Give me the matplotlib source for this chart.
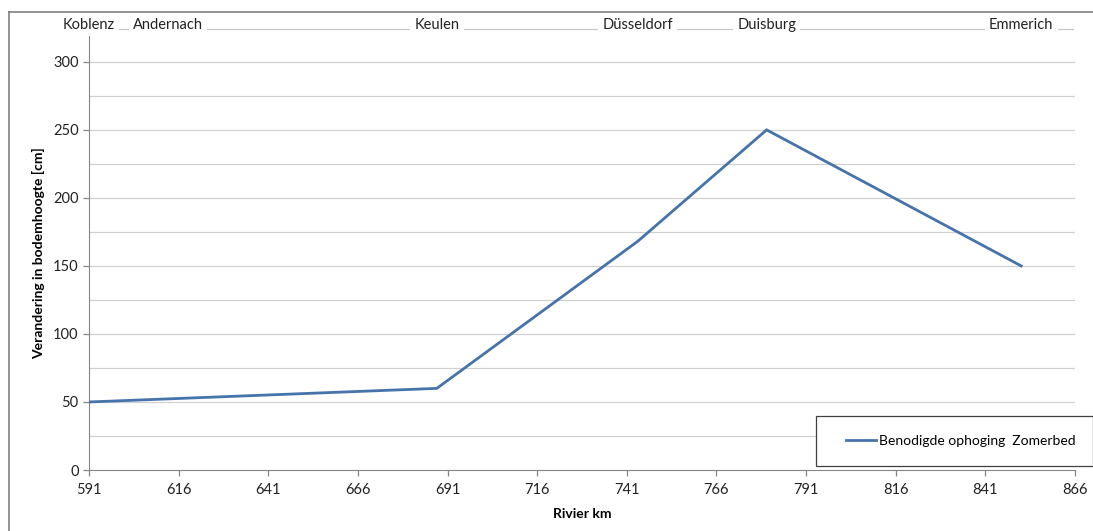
import matplotlib.pyplot as plt
from matplotlib.lines import Line2D
from matplotlib.patches import Rectangle

plt.rcParams['font.family'] = ['Lato', 'DejaVu Sans']

# data
km = [591, 688, 744, 780, 851]
ophoging = [50, 60, 168, 250, 150]

steden = ['Koblenz', 'Andernach', 'Keulen', 'Düsseldorf', 'Duisburg', 'Emmerich']
steden_km = [591, 613, 688, 744, 780, 851]

x_ticks = list(range(591, 867, 25))
y_ticks = list(range(0, 301, 50))
y_grid = list(range(25, 301, 25))

W, H = 1093, 531
fig = plt.figure(figsize=(W / 100, H / 100), dpi=100)
ax = fig.add_axes([89 / W, 1 - 470 / H, (1075 - 89) / W, (470 - 36) / H])

grey = '#868686'
for g in y_grid:
    ax.axhline(g, color='#d0d0d0', linewidth=0.9, zorder=0)

ax.plot(km, ophoging, color='#4673aa', linewidth=2.0, solid_joinstyle='miter',
        label='Benodigde ophoging  Zomerbed', zorder=3)

ax.set_xlim(591, 866)
ax.set_ylim(0, 319)
ax.set_xticks(x_ticks)
ax.set_yticks(y_ticks)
ax.tick_params(axis='both', labelsize=10.5, color=grey, length=4, width=0.9, labelcolor='#222222')
ax.tick_params(axis='x', pad=5)
ax.spines['top'].set_visible(False)
ax.spines['right'].set_visible(False)
ax.spines['left'].set_color(grey)
ax.spines['bottom'].set_color(grey)

ax.set_xlabel('Rivier km', fontsize=10, fontweight='bold', labelpad=8)
ax.set_ylabel('Verandering in bodemhoogte [cm]', fontsize=10, fontweight='bold', labelpad=6)

# chart border (top and left)
fig.add_artist(Line2D([9 / W, 9 / W], [0, 1 - 12 / H], transform=fig.transFigure, color='#808080', linewidth=1.2))
fig.add_artist(Line2D([9 / W, 1], [1 - 12 / H, 1 - 12 / H], transform=fig.transFigure, color='#808080', linewidth=1.2))

# top row of place names
y_top = 1 - 29 / H
fig.add_artist(Line2D([118 / W, 1073 / W], [y_top, y_top], transform=fig.transFigure, color='#c8c8c8', linewidth=0.9))
for naam, k in zip(steden, steden_km):
    xf = (89 + (k - 591) * (1075 - 89) / 275) / W
    fig.text(xf, 1 - 25 / H, naam, ha='center', va='center', fontsize=10.5, color='#222222',
             bbox=dict(facecolor='white', edgecolor='none', pad=3))

# legend
fig.add_artist(Rectangle((816 / W, 1 - 466 / H), (W - 816) / W, 50 / H, transform=fig.transFigure,
                         facecolor='white', edgecolor='#404040', linewidth=0.9, zorder=5))
leg = fig.legend(loc='center left', bbox_to_anchor=(833 / W, 1 - 441 / H), frameon=False,
                 fontsize=10, handlelength=2.2, handletextpad=0.2)
leg.set_zorder(6)

plt.savefig('out.png', dpi=100)
